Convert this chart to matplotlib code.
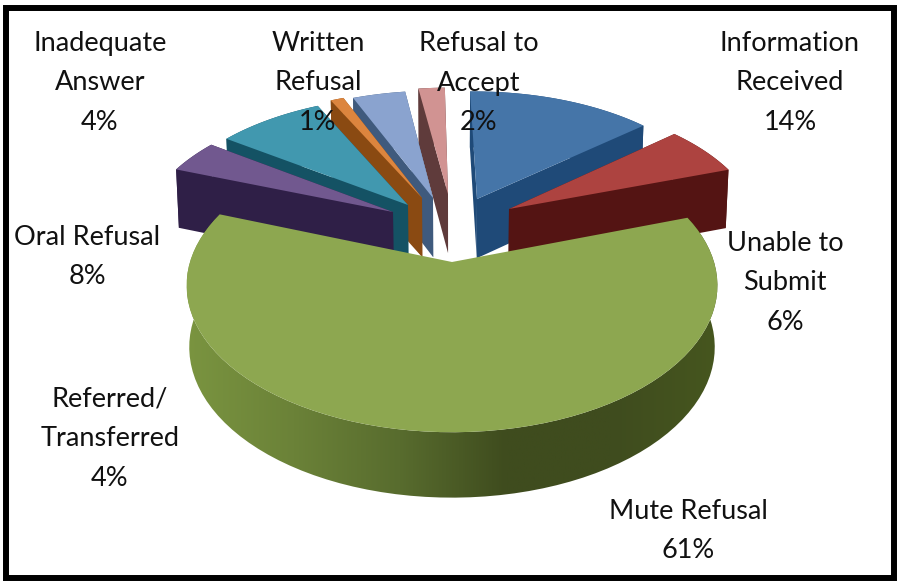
#!/usr/bin/env python
import numpy as np
import matplotlib
matplotlib.use("Agg")
import matplotlib.pyplot as plt
from matplotlib.colors import LinearSegmentedColormap
from matplotlib.patches import Polygon, Rectangle

# slices, clockwise from 12 o'clock
categories = ['Information Received', 'Unable to Submit', 'Mute Refusal',
              'Referred/ Transferred', 'Oral Refusal', 'Written Refusal',
              'Inadequate Answer', 'Refusal to Accept']
values = [14, 6, 61, 4, 8, 1, 4, 2]

top_colors = ['#4575a8', '#ad4340', '#8da750', '#71588f',
              '#4198af', '#dc853e', '#8aa3cf', '#d19392']
wall_colors = ['#1f4a78', '#541413', '#3f4c1e', '#2f1f47',
               '#145264', '#8a4a12', '#3f5a7d', '#5f3b3b']

# where the tip of each slice ends up once pulled out (pixels from centre)
tip_dx = [25, 57, 0, -59, -44, -30, -19, -4]
tip_dy = [-63, -53, 0, -50, -57, -64, -64, -68]

# label text, one entry per line, placed like the original
label_text = ['Inadequate\nAnswer\n4%', 'Written\nRefusal\n1%',
              'Refusal to\nAccept\n2%', 'Information\nReceived\n14%',
              'Unable to\nSubmit\n6%', 'Oral Refusal\n8%',
              'Referred/\nTransferred\n4%', 'Mute Refusal\n61%']
label_x = [100, 318, 479, 790, 785, 87, 110, 688]
label_y = [83, 83, 83, 83, 283, 257, 439, 531]

CX, CY = 452, 262
RX, RY = 262, 143
PERSP = 0.16
DEPTH = 61
ROTATION = np.radians(-1.0)


def project(u, v):
    s = 1.0 / (1.0 - PERSP * v)
    return CX + RX * u * s, CY + RY * v * s, s


def unproject(dx, dy):
    v = dy / (RY + PERSP * dy)
    s = 1.0 / (1.0 - PERSP * v)
    return dx / (RX * s), v


def wall_bottom(x, y, s):
    return CX + (x - CX) * 0.99, y + DEPTH * s ** 0.4


def draw_slice(ax, start, end, tip, top, wall, gradient=False):
    theta = np.linspace(start, end, 80)
    u0, v0 = unproject(*tip)
    xa, ya, sa = project(u0 + np.sin(theta), v0 - np.cos(theta))
    xt, yt, st = project(u0, v0)
    xb, yb = wall_bottom(xa, ya, sa)
    xtb, ytb = wall_bottom(xt, yt, st)

    outer = np.column_stack([np.r_[xa, xb[::-1]], np.r_[ya, yb[::-1]]])
    if gradient:
        cmap = LinearSegmentedColormap.from_list(
            'wall', ['#7a9440', '#6b8238', '#586c2e', '#3f4c1e', '#3f4c1e', '#46561f'])
        im = ax.imshow(np.linspace(0, 1, 256)[None, :], cmap=cmap, aspect='auto',
                       extent=(xa.min(), xa.max(), yb.max(), ya.min()), zorder=2)
        im.set_clip_path(Polygon(outer, transform=ax.transData))
    else:
        ax.add_patch(Polygon(outer, color=wall, lw=0, zorder=2))
        for i in (0, -1):
            side = [(xt, yt), (xa[i], ya[i]), (xb[i], yb[i]), (xtb, ytb)]
            ax.add_patch(Polygon(side, color=wall, lw=0, zorder=2))
    ax.add_patch(Polygon(np.column_stack([np.r_[xt, xa], np.r_[yt, ya]]),
                         color=top, lw=0, zorder=2))


def main():
    plt.rcParams['font.family'] = ['Lato', 'DejaVu Sans']
    fig = plt.figure(figsize=(9, 5.83), dpi=100)
    ax = fig.add_axes([0, 0, 1, 1])

    edges = np.r_[0, np.cumsum(values)] / sum(values) * 2 * np.pi + ROTATION
    # paint from the back of the pie to the front, the big slice goes last
    for i in [7, 6, 5, 4, 3, 0, 1, 2]:
        draw_slice(ax, edges[i], edges[i + 1], (tip_dx[i], tip_dy[i]),
                   top_colors[i], wall_colors[i], gradient=(i == 2))

    for txt, x, y in zip(label_text, label_x, label_y):
        ax.text(x, y, txt, ha='center', va='center', fontsize=19.5,
                linespacing=1.74, color='#111111', zorder=5)

    ax.add_patch(Rectangle((5.5, 7.5), 888, 570, fill=False, ec='black', lw=4.3, zorder=6))
    ax.set_xlim(0, 900)
    ax.set_ylim(583, 0)
    ax.axis('off')
    fig.savefig('out.png', dpi=100, facecolor='white')


if __name__ == "__main__":
    main()
